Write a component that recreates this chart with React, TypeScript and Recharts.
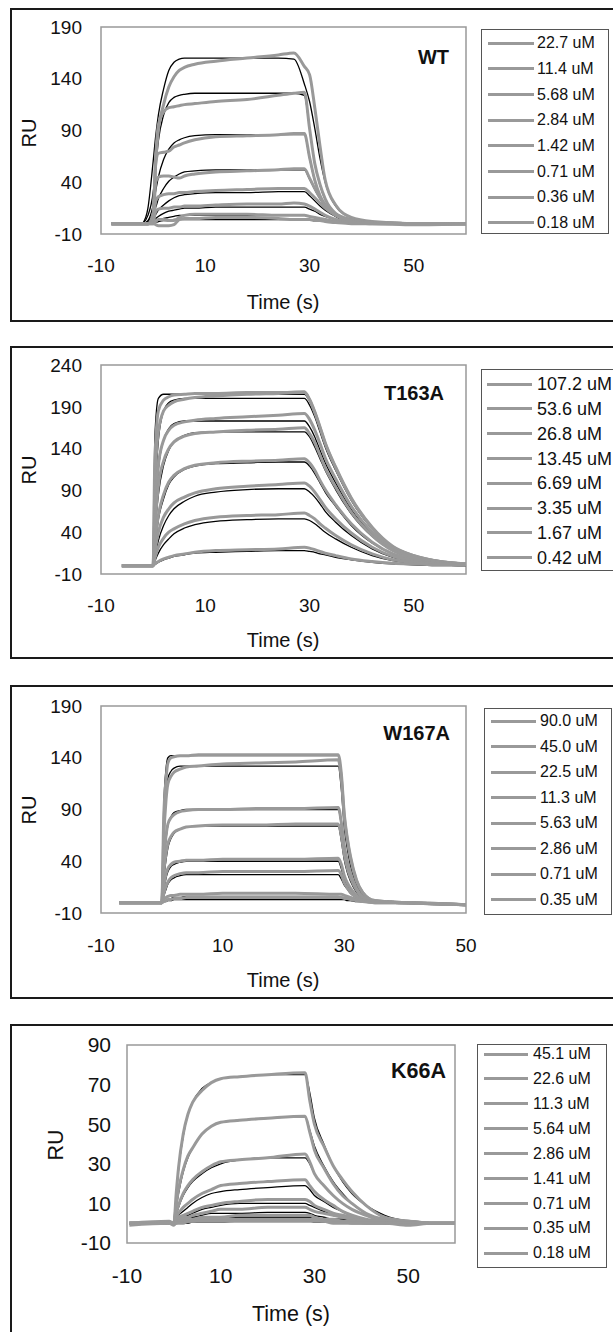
import React from 'react';
import { LineChart, Line, XAxis, YAxis, ReferenceArea } from 'recharts';

const FONT = '"Liberation Sans", Arial, sans-serif';
const GRAY = '#999999';

// ---- WT ----
const wtTime = [-8, -2, -1, 0, 0.5, 1, 2, 3, 4, 5, 6, 8, 12, 18, 24, 27, 29, 30, 31, 32, 33, 35, 38, 42, 50, 60];
const wtLabels = ['22.7 uM', '11.4 uM', '5.68 uM', '2.84 uM', '1.42 uM', '0.71 uM', '0.36 uM', '0.18 uM'];
const wtObserved = [
  [0, 0, 0, 10, 60, 90, 115, 132, 142, 148, 151, 154, 157, 160, 163, 165, 152, 144, 112, 75, 42, 18, 6, 2, 0, 0],
  [0, 0, 0, 8, 65, 95, 108, 112, 113, 114, 115, 116, 118, 120, 124, 126, 127, 92, 58, 38, 24, 10, 4, 1, 0, 0],
  [0, 0, 0, 5, 58, 68, 69, 70, 74, 76, 78, 81, 84, 85, 86, 87, 87, 64, 42, 27, 18, 8, 3, 1, 0, 0],
  [0, 0, 0, 3, 40, 45, 46, 46, 45, 44, 46, 48, 50, 51, 52, 53, 53, 44, 34, 25, 18, 9, 3, 1, 0, 0],
  [0, 0, 0, 2, 22, 26, 28, 29, 29, 30, 30, 31, 32, 33, 34, 34, 34, 30, 25, 20, 15, 8, 3, 1, 0, 0],
  [0, 0, 0, 1, 12, 14, 15, 15, 16, 16, 17, 17, 18, 19, 19, 20, 19, 17, 14, 11, 8, 4, 2, 1, 0, 0],
  [0, 0, 0, 0, 2, 4, 4, 3, 3, 6, 8, 9, 9, 9, 8, 8, 8, 7, 6, 5, 4, 2, 1, 0, 0, 0],
  [0, 0, 0, 0, -1, -2, -2, -2, -1, 4, 5, 5, 6, 6, 5, 4, 4, 4, 3, 3, 2, 1, 0, 0, -1, 0],
];
const wtFit = [
  [null, 0, 15, 60, 85, 105, 130, 148, 156, 159, 160, 160, 160, 160, 160, 159, 135, 118, 92, 63, 40, 17, 6, 2, 0, null],
  [null, 0, 8, 30, 55, 80, 105, 117, 122, 124, 125, 126, 126, 126, 126, 126, 124, 92, 58, 37, 23, 10, 3, 1, 0, null],
  [null, 0, 3, 18, 32, 45, 62, 72, 78, 81, 83, 85, 86, 86, 86, 86, 86, 63, 41, 26, 17, 7, 2, 1, 0, null],
  [null, 0, 2, 10, 16, 24, 34, 41, 45, 48, 50, 51, 52, 52, 52, 52, 52, 43, 33, 24, 17, 8, 3, 1, 0, null],
  [null, 0, 1, 5, 9, 13, 18, 22, 25, 27, 28, 29, 30, 30, 31, 31, 31, 27, 22, 17, 13, 7, 2, 1, 0, null],
  [null, 0, 1, 3, 5, 7, 10, 12, 13, 14, 15, 15, 16, 16, 16, 16, 16, 14, 12, 9, 7, 4, 1, 0, 0, null],
  [null, 0, 0, 1, 2, 3, 5, 6, 7, 8, 8, 8, 8, 8, 8, 8, 8, 7, 6, 5, 4, 2, 1, 0, 0, null],
  [null, 0, 0, 1, 1, 2, 3, 3, 4, 4, 4, 4, 4, 4, 4, 4, 4, 4, 3, 3, 2, 1, 0, 0, 0, null],
];

// ---- T163A ----
const t163Time = [-6, -1, 0, 0.3, 1, 2, 3, 4, 6, 8, 12, 18, 24, 29, 30, 31, 32, 33, 35, 38, 42, 46, 50, 55, 60];
const t163Labels = ['107.2 uM', '53.6 uM', '26.8 uM', '13.45 uM', '6.69 uM', '3.35 uM', '1.67 uM', '0.42 uM'];
const t163Observed = [
  [0, 0, 0, 120, 185, 198, 202, 204, 205, 206, 206, 207, 207, 208, 199, 184, 166, 147, 118, 81, 46, 23, 12, 5, 2],
  [0, 0, 0, 90, 160, 185, 192, 196, 199, 201, 203, 205, 206, 207, 198, 183, 165, 146, 117, 80, 45, 22, 12, 5, 2],
  [0, 0, 0, 60, 120, 150, 162, 168, 172, 174, 176, 178, 180, 182, 175, 162, 146, 129, 104, 71, 40, 20, 11, 5, 2],
  [0, 0, 0, 40, 95, 125, 140, 148, 155, 158, 160, 162, 163, 165, 158, 147, 132, 117, 94, 64, 36, 18, 10, 4, 2],
  [0, 0, 0, 25, 60, 85, 100, 108, 116, 120, 123, 125, 126, 128, 123, 114, 102, 91, 73, 50, 28, 14, 8, 3, 1],
  [0, 0, 0, 15, 40, 58, 68, 75, 82, 87, 92, 95, 97, 99, 95, 88, 79, 70, 56, 39, 22, 11, 6, 2, 1],
  [0, 0, 0, 8, 22, 33, 40, 44, 50, 54, 58, 60, 61, 63, 60, 56, 50, 45, 36, 25, 14, 7, 4, 2, 1],
  [0, 0, 0, 2, 5, 8, 10, 12, 14, 16, 18, 19, 20, 22, 21, 19, 17, 15, 12, 8, 5, 3, 2, 1, 1],
];
const t163Fit = [
  [null, null, 0, 150, 200, 205, 205, 205, 205, 205, 205, 205, 205, 205, 197, 182, 164, 146, 117, 80, 45, 23, 12, 5, 2],
  [null, null, 0, 70, 150, 185, 195, 198, 200, 200, 200, 200, 200, 200, 192, 178, 160, 142, 114, 78, 44, 22, 12, 5, 2],
  [null, null, 0, 50, 115, 150, 164, 170, 173, 173, 173, 173, 173, 173, 166, 154, 138, 123, 99, 67, 38, 19, 10, 4, 2],
  [null, null, 0, 35, 85, 120, 138, 148, 156, 159, 160, 160, 160, 160, 154, 142, 128, 114, 91, 62, 35, 18, 10, 4, 2],
  [null, null, 0, 20, 55, 80, 97, 106, 115, 119, 122, 123, 124, 124, 119, 110, 99, 88, 71, 48, 27, 14, 7, 3, 1],
  [null, null, 0, 10, 30, 48, 60, 68, 77, 83, 88, 91, 92, 92, 88, 82, 74, 65, 52, 36, 20, 10, 6, 2, 1],
  [null, null, 0, 5, 15, 25, 32, 38, 45, 49, 53, 55, 56, 56, 54, 50, 45, 40, 32, 22, 12, 6, 3, 1, 0],
  [null, null, 0, 1, 4, 7, 9, 11, 13, 15, 16, 17, 18, 18, 17, 16, 14, 13, 10, 7, 4, 2, 1, 0, 0],
];

// ---- W167A ----
const w167Time = [-7, -1, 0, 0.3, 0.7, 1, 1.5, 2, 3, 4, 6, 10, 16, 22, 29, 29.5, 30, 30.5, 31, 32, 33, 35, 40, 50];
const w167Labels = ['90.0 uM', '45.0 uM', '22.5 uM', '11.3 uM', '5.63 uM', '2.86 uM', '0.71 uM', '0.35 uM'];
const w167Observed = [
  [0, 0, 0, 80, 120, 135, 140, 141, 142, 142, 143, 143, 143, 143, 143, 125, 85, 62, 45, 22, 10, 2, 0, -2],
  [0, 0, 0, 60, 100, 115, 122, 126, 129, 131, 132, 134, 135, 136, 138, 120, 82, 60, 43, 21, 10, 2, 0, -2],
  [0, 0, 0, 40, 65, 76, 82, 85, 88, 89, 90, 90, 91, 91, 92, 78, 55, 40, 29, 14, 6, 1, 0, -2],
  [0, 0, 0, 28, 48, 57, 64, 68, 71, 73, 74, 75, 75, 76, 76, 65, 46, 33, 24, 12, 5, 1, 0, -2],
  [0, 0, 0, 15, 28, 33, 37, 39, 40, 41, 41, 42, 42, 42, 43, 37, 26, 19, 14, 7, 3, 1, 0, -2],
  [0, 0, 0, 8, 16, 20, 24, 26, 28, 29, 29, 30, 30, 30, 31, 27, 19, 14, 10, 5, 2, 0, 0, -2],
  [0, 0, 0, 3, 5, 6, 7, 7, 8, 8, 8, 9, 9, 9, 8, 8, 7, 6, 5, 3, 2, 1, 0, -2],
  [0, 0, 0, 1, 2, 3, 3, 4, 4, 5, 5, 5, 5, 5, 5, 5, 4, 4, 3, 2, 1, 0, 0, -2],
];
const w167Fit = [
  [null, null, 0, 90, 130, 140, 142, 142, 142, 142, 142, 142, 142, 142, 142, 115, 78, 55, 38, 18, 8, 1, 0, null],
  [null, null, 0, 70, 105, 120, 127, 130, 132, 132, 132, 132, 132, 132, 132, 110, 72, 52, 36, 17, 7, 1, 0, null],
  [null, null, 0, 35, 62, 75, 83, 87, 89, 90, 90, 90, 90, 90, 90, 75, 50, 36, 25, 12, 5, 1, 0, null],
  [null, null, 0, 22, 42, 53, 62, 67, 71, 73, 74, 74, 74, 74, 74, 60, 41, 29, 21, 10, 4, 1, 0, null],
  [null, null, 0, 12, 24, 30, 35, 37, 39, 40, 40, 40, 40, 40, 40, 33, 22, 16, 11, 5, 2, 0, 0, null],
  [null, null, 0, 6, 13, 18, 22, 24, 26, 27, 27, 27, 27, 27, 27, 23, 17, 13, 9, 5, 2, 0, 0, null],
  [null, null, 0, 1, 2, 3, 4, 5, 5, 6, 6, 6, 6, 6, 6, 5, 5, 4, 3, 2, 1, 0, 0, null],
  [null, null, 0, 1, 1, 2, 2, 3, 3, 3, 3, 3, 3, 3, 3, 3, 3, 2, 2, 1, 1, 0, 0, null],
];

// ---- K66A ----
const k66Time = [-9.5, -1, 0, 0.5, 1, 2, 3, 4, 6, 8, 10, 14, 20, 28, 29, 30, 32, 34, 36, 38, 41, 45, 50, 55, 60];
const k66Labels = ['45.1 uM', '22.6 uM', '11.3 uM', '5.64 uM', '2.86 uM', '1.41 uM', '0.71 uM', '0.35 uM', '0.18 uM'];
const k66Observed = [
  [0, 0, 0, 15, 28, 45, 55, 61, 67, 71, 73, 74, 75, 76, 62, 50, 39, 29, 22, 16, 9, 3, 1, 0, 0],
  [0, 0, 0, 9, 17, 27, 34, 38, 45, 49, 51, 52, 53, 54, 46, 37, 28, 20, 14, 10, 5, 2, 1, 0, 0],
  [0, 0, 0, 5, 9, 15, 19, 22, 26, 29, 31, 32, 33, 35, 31, 25, 19, 14, 10, 7, 4, 1, 1, 0, 0],
  [0, 0, 0, 3, 5, 8, 10, 12, 15, 17, 19, 20, 21, 22, 19, 16, 12, 9, 6, 4, 2, 1, 0, 0, 0],
  [0, 0, 0, 2, 3, 4, 5, 6, 8, 9, 10, 11, 12, 12, 11, 9, 7, 5, 4, 3, 1, 1, 0, 0, 0],
  [0, 0, 0, 1, 2, 3, 3, 4, 5, 6, 7, 7, 8, 8, 7, 6, 5, 4, 3, 2, 1, 0, 0, 0, 0],
  [0, 0, 0, 1, 1, 2, 2, 2, 3, 3, 3, 4, 4, 4, 4, 3, 2, 2, 1, 1, 0, 0, 0, 0, 0],
  [0, 1, 0, 0, 1, 1, 1, 1, 2, 2, 2, 2, 2, 2, 2, 2, 1, 1, 1, 0, 0, 0, 0, 0, 0],
  [-1, 0, -1, 0, 0, 0, 1, 1, 1, 1, 1, 1, 1, 1, 1, 1, 1, 0, 0, 0, 0, 0, -1, 0, 0],
];
const k66Fit = [
  [null, null, 0, 14, 27, 44, 55, 61, 68, 71, 73, 74, 75, 75, 66, 53, 40, 29, 21, 15, 9, 4, 1, 0, null],
  [null, null, 0, 8, 15, 26, 33, 38, 45, 49, 51, 52, 53, 54, 47, 39, 29, 21, 15, 10, 5, 2, 1, 0, null],
  [null, null, 0, 4, 8, 14, 18, 21, 25, 28, 30, 32, 33, 33, 30, 25, 19, 14, 10, 7, 4, 1, 0, 0, null],
  [null, null, 0, 2, 4, 6, 8, 10, 13, 15, 16, 17, 18, 19, 17, 14, 11, 8, 6, 4, 2, 1, 0, 0, null],
  [null, null, 0, 1, 2, 3, 4, 5, 7, 8, 9, 10, 10, 10, 9, 8, 6, 4, 3, 2, 1, 0, 0, 0, null],
  [null, null, 0, 1, 1, 2, 3, 3, 4, 5, 5, 5, 5.5, 5.5, 5, 4, 3, 2, 2, 1, 1, 0, 0, 0, null],
  [null, null, 0, 0, 1, 1, 2, 2, 2, 3, 3, 3, 3, 3, 3, 2, 2, 1, 1, 1, 0, 0, 0, 0, null],
  [null, null, 0, 0, 0, 1, 1, 1, 1, 1, 1, 1.5, 1.5, 1.5, 1, 1, 1, 1, 0, 0, 0, 0, 0, 0, null],
  [null, null, 0, 0, 0, 0, 0, 0.5, 0.5, 0.5, 0.5, 1, 1, 1, 1, 0.5, 0.5, 0.5, 0, 0, 0, 0, 0, 0, null],
];

const xTicks6070 = [-10, 10, 30, 50];

const panels = [
  {
    title: 'WT', time: wtTime, observed: wtObserved, fit: wtFit, labels: wtLabels,
    xDomain: [-10, 60], xTicks: xTicks6070, yDomain: [-10, 190], yTicks: [-10, 40, 90, 140, 190],
    box: { top: 8, bottom: 322 }, chartTop: 0, chartHeight: 290,
    plot: { left: 101, right: 466, top: 27, bottom: 234 },
    tickFont: 19, xTickGap: 25, yTickGap: 19, axisFont: 20,
    titlePos: { right: 449, y: 57, font: 20 }, ru: { x: 29, y: 133 }, timeLbl: { x: 283, y: 302 },
    legend: { left: 481, right: 609, top: 29, bottom: 234, first: 43, gap: 25.7, lineL: 488, lineR: 534, textL: 537, font: 16 },
  },
  {
    title: 'T163A', time: t163Time, observed: t163Observed, fit: t163Fit, labels: t163Labels,
    xDomain: [-10, 60], xTicks: xTicks6070, yDomain: [-10, 240], yTicks: [-10, 40, 90, 140, 190, 240],
    box: { top: 346, bottom: 659 }, chartTop: 340, chartHeight: 290,
    plot: { left: 101, right: 466, top: 365, bottom: 574 },
    tickFont: 19, xTickGap: 25, yTickGap: 19, axisFont: 20,
    titlePos: { right: 444, y: 393, font: 20 }, ru: { x: 29, y: 470 }, timeLbl: { x: 283, y: 640 },
    legend: { left: 481, right: 640, top: 369, bottom: 571, first: 384, gap: 24.8, lineL: 487, lineR: 532, textL: 537, font: 18 },
  },
  {
    title: 'W167A', time: w167Time, observed: w167Observed, fit: w167Fit, labels: w167Labels,
    xDomain: [-10, 50], xTicks: [-10, 10, 30, 50], yDomain: [-10, 190], yTicks: [-10, 40, 90, 140, 190],
    box: { top: 685, bottom: 999 }, chartTop: 680, chartHeight: 290,
    plot: { left: 101, right: 466, top: 706, bottom: 913 },
    tickFont: 19, xTickGap: 26, yTickGap: 19, axisFont: 20,
    titlePos: { right: 450, y: 733, font: 20 }, ru: { x: 29, y: 810 }, timeLbl: { x: 283, y: 980 },
    legend: { left: 484, right: 612, top: 708, bottom: 915, first: 721, gap: 25.5, lineL: 491, lineR: 536, textL: 540, font: 16 },
  },
  {
    title: 'K66A', time: k66Time, observed: k66Observed, fit: k66Fit, labels: k66Labels,
    xDomain: [-10, 60], xTicks: xTicks6070, yDomain: [-10, 90], yTicks: [-10, 10, 30, 50, 70, 90],
    box: { top: 1024, bottom: 1345 }, chartTop: 1020, chartHeight: 290,
    plot: { left: 127, right: 455, top: 1045, bottom: 1243 },
    tickFont: 21, xTickGap: 25, yTickGap: 16, axisFont: 21.5,
    titlePos: { right: 446, y: 1072, font: 21.5 }, ru: { x: 57, y: 1145 }, timeLbl: { x: 291, y: 1315 },
    legend: { left: 477, right: 607, top: 1044, bottom: 1268, first: 1054, gap: 24.9, lineL: 484, lineR: 528, textL: 533, font: 16 },
  },
];

// text placed by its vertical centre
function Txt({ x, y, size, children, anchor = 'start', bold = false, rotate = false }: any) {
  const tx = anchor === 'middle' ? '-50%' : anchor === 'end' ? '-100%' : '0';
  const transform = rotate ? 'translate(-50%, -50%) rotate(-90deg)' : `translateX(${tx})`;
  return (
    <div
      style={{
        position: 'absolute',
        left: x,
        top: rotate ? y : y - size * 0.49,
        fontSize: size,
        lineHeight: 1,
        fontFamily: FONT,
        fontWeight: bold ? 700 : 400,
        color: '#111',
        whiteSpace: 'nowrap',
        transform,
      }}
    >
      {children}
    </div>
  );
}

function Panel({ p }: any) {
  const rows = p.time.map((t: number, i: number) => {
    const row: Record<string, number | null> = { t };
    p.observed.forEach((s: number[], k: number) => { row[`d${k}`] = s[i]; });
    p.fit.forEach((s: (number | null)[], k: number) => { row[`f${k}`] = s[i]; });
    return row;
  });
  const { plot, legend: lg } = p;
  const tick = { fontSize: p.tickFont, fill: '#111', fontFamily: FONT };

  return (
    <>
      <div
        style={{
          position: 'absolute', left: 10, top: p.box.top, width: 640,
          height: p.box.bottom - p.box.top - 4, border: '2px solid #1a1a1a',
        }}
      />
      <div style={{ position: 'absolute', left: 0, top: p.chartTop }}>
        <LineChart
          width={613}
          height={p.chartHeight}
          data={rows}
          margin={{ top: plot.top - p.chartTop, right: 613 - plot.right, bottom: 0, left: 0 }}
        >
          <XAxis
            type="number" dataKey="t" domain={p.xDomain} ticks={p.xTicks} interval={0}
            allowDataOverflow tickLine={false} axisLine={false} tickSize={0} tickMargin={p.xTickGap}
            height={p.chartTop + p.chartHeight - plot.bottom} tick={tick}
          />
          <YAxis
            type="number" domain={p.yDomain} ticks={p.yTicks} interval={0}
            allowDataOverflow tickLine={false} axisLine={false} tickSize={0} tickMargin={p.yTickGap}
            width={plot.left} tick={tick}
          />
          <ReferenceArea
            x1={p.xDomain[0]} x2={p.xDomain[1]} y1={p.yDomain[0]} y2={p.yDomain[1]}
            fill="none" stroke={GRAY} strokeWidth={1.5} fillOpacity={0}
          />
          {p.fit.map((_: any, k: number) => (
            <Line
              key={`f${k}`} dataKey={`f${k}`} type="monotone" stroke="#000" strokeWidth={1.3}
              dot={false} activeDot={false} isAnimationActive={false}
            />
          ))}
          {p.observed.map((_: any, k: number) => (
            <Line
              key={`d${k}`} dataKey={`d${k}`} type="monotone" stroke={GRAY} strokeWidth={3}
              dot={false} activeDot={false} isAnimationActive={false}
            />
          ))}
        </LineChart>
      </div>

      <Txt x={p.titlePos.right} y={p.titlePos.y} size={p.titlePos.font} anchor="end" bold>{p.title}</Txt>
      <Txt x={p.ru.x} y={p.ru.y} size={p.axisFont} rotate>RU</Txt>
      <Txt x={p.timeLbl.x} y={p.timeLbl.y} size={p.axisFont} anchor="middle">Time (s)</Txt>

      <div
        style={{
          position: 'absolute', left: lg.left, top: lg.top, width: lg.right - lg.left,
          height: lg.bottom - lg.top, border: '1px solid #555', boxSizing: 'border-box',
        }}
      />
      {p.labels.map((lab: string, k: number) => {
        const cy = lg.first + lg.gap * k;
        return (
          <React.Fragment key={lab}>
            <div
              style={{
                position: 'absolute', left: lg.lineL, top: cy - 1.5,
                width: lg.lineR - lg.lineL, height: 3, background: GRAY,
              }}
            />
            <Txt x={lg.textL} y={cy} size={lg.font}>{lab}</Txt>
          </React.Fragment>
        );
      })}
    </>
  );
}

export default function App() {
  return (
    <div
      style={{
        position: 'absolute', left: 0, top: 0, width: 613, height: 1332,
        overflow: 'hidden', background: '#fff',
      }}
    >
      {panels.map((p) => (
        <Panel key={p.title} p={p} />
      ))}
    </div>
  );
}
